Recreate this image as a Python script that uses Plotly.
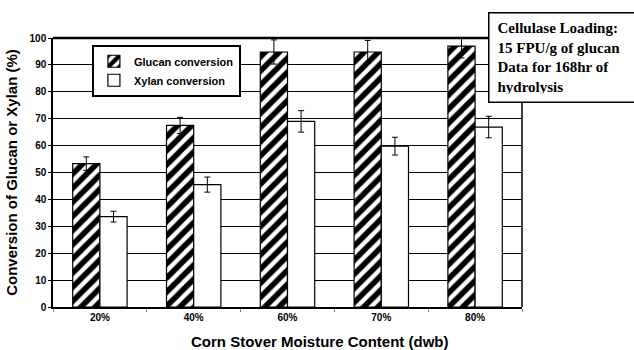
import plotly.graph_objects as go

categories = ["20%", "40%", "60%", "70%", "80%"]
glucan = [53.3, 67.5, 94.8, 94.8, 97.0]
glucan_err = [2.5, 3.0, 4.5, 4.3, 4.4]
xylan = [33.6, 45.5, 69.0, 59.8, 66.9]
xylan_err = [2.0, 2.8, 4.0, 3.3, 4.0]
y_ticks = list(range(0, 101, 10))

SANS = "Liberation Sans, Arial"
SERIF = "Liberation Serif, Times New Roman"

fig = go.Figure()
fig.add_trace(go.Bar(
    x=categories, y=glucan, name="<b>Glucan conversion</b>",
    marker=dict(color="white", line=dict(color="black", width=1.2),
                pattern=dict(shape="/", fgcolor="#000000", fgopacity=1, bgcolor="white",
                             fillmode="replace", size=10, solidity=0.55)),
    error_y=dict(type="data", array=glucan_err, color="black", thickness=1, width=3),
))
fig.add_trace(go.Bar(
    x=categories, y=xylan, name="<b>Xylan conversion</b>",
    marker=dict(color="white", line=dict(color="black", width=1.2)),
    error_y=dict(type="data", array=xylan_err, color="black", thickness=1, width=3),
))

fig.update_layout(
    width=634, height=350,
    margin=dict(l=53, r=112, t=38, b=43),
    paper_bgcolor="white", plot_bgcolor="white",
    barmode="group", bargap=0.42, bargroupgap=0,
    font=dict(family=SANS, color="black"),
    showlegend=True,
    legend=dict(x=0.083, y=0.975, xanchor="left", yanchor="top",
                bgcolor="white", bordercolor="black", borderwidth=2,
                font=dict(size=11, family=SANS),
                tracegroupgap=0, itemwidth=30),
    xaxis=dict(
        type="category", tickson="boundaries", ticks="outside", ticklen=3,
        tickcolor="#888", showline=True, linecolor="black", linewidth=1.5,
        showgrid=False,
        tickvals=categories, ticktext=["<b>%s</b>" % c for c in categories],
        tickfont=dict(size=10, family=SANS),
    ),
    yaxis=dict(
        range=[0, 100], tickvals=y_ticks, ticktext=["<b>%d</b>" % v for v in y_ticks],
        ticks="outside", ticklen=3,
        tickcolor="black", showline=True, linecolor="black", linewidth=1.5,
        showgrid=True, gridcolor="black", gridwidth=1.2, zeroline=False,
        tickfont=dict(size=10, family=SANS),
        title=dict(text="<b>Conversion of Glucan or Xylan (%)</b>", standoff=8,
                   font=dict(size=15, family=SANS)),
    ),
    shapes=[
        dict(type="line", xref="paper", yref="paper", x0=0, x1=1, y0=1, y1=1,
             line=dict(color="black", width=2.5)),
        dict(type="line", xref="paper", yref="paper", x0=1, x1=1, y0=0, y1=1,
             line=dict(color="black", width=1.5)),
    ],
    annotations=[
        dict(text="<b>Corn Stover Moisture Content (dwb)</b>", xref="paper", yref="paper",
             x=0.569, y=-0.09, xanchor="center", yanchor="top", showarrow=False,
             font=dict(size=15, family=SANS)),
        dict(text="<b>Cellulase Loading:<br>15 FPU/g of glucan<br>Data for 168hr of<br>hydrolysis</b>",
             xref="paper", yref="paper", x=0.928, y=1.097, xanchor="left", yanchor="top",
             align="left", showarrow=False, bgcolor="white", bordercolor="black",
             borderwidth=1.5, borderpad=8, width=142, height=72,
             font=dict(size=15, family=SERIF)),
    ],
)

fig.write_html("out.html", config={"displayModeBar": False},
               post_script="document.body.style.margin='0px';document.body.style.overflow='hidden';")
